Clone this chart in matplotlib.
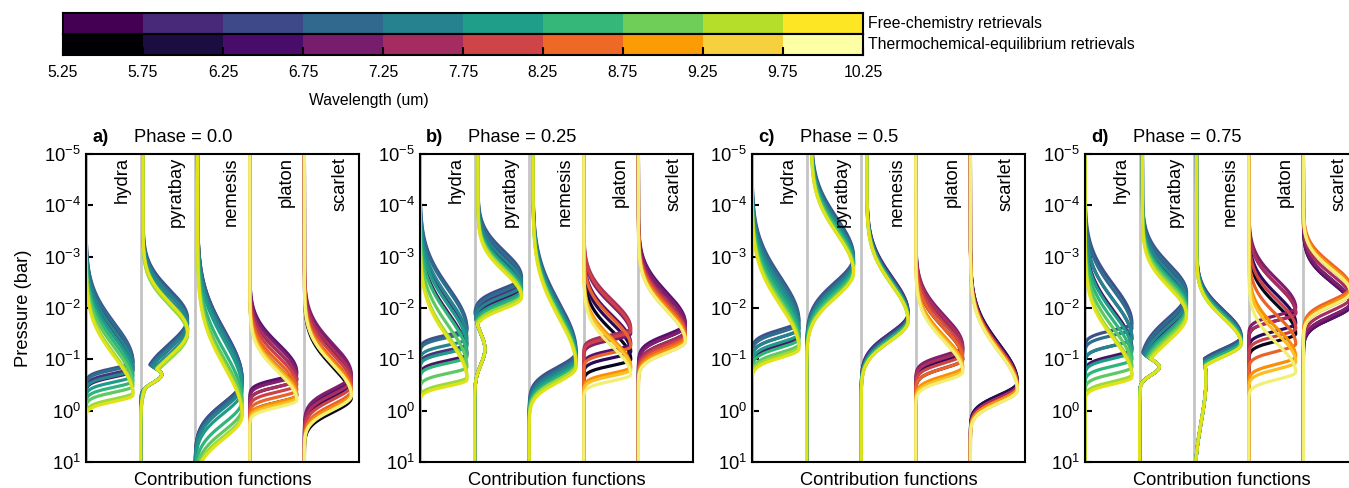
import numpy as np
import matplotlib
matplotlib.use('Agg')
from matplotlib import pyplot as plt
from matplotlib import cm
from matplotlib.colors import ListedColormap

plt.rcParams['font.family'] = ['Liberation Sans', 'DejaVu Sans']
plt.rcParams['font.size'] = 13.2
bar_fs = 11.3

# wavelength bins (um)
wavelengths = [5.5, 6.0, 6.5, 7.0, 7.5, 8.0, 8.5, 9.0, 9.5, 10.0]
wl_bounds = [5.25, 5.75, 6.25, 6.75, 7.25, 7.75, 8.25, 8.75, 9.25, 9.75, 10.25]
wl_ticklabels = ['5.25', '5.75', '6.25', '6.75', '7.25', '7.75', '8.25', '8.75',
                 '9.25', '9.75', '10.25']

phases = [0.0, 0.25, 0.5, 0.75]
panel_letters = ['a)', 'b)', 'c)', 'd)']
codes = ['hydra', 'pyratbay', 'nemesis', 'platon', 'scarlet']
free_codes = ['hydra', 'pyratbay', 'nemesis']

# log10 pressure (bar) of the contribution-function peak, per phase, per wavelength
peak_hydra = [
    [-0.78, -0.85, -0.95, -0.92, -0.80, -0.68, -0.58, -0.48, -0.35, -0.30],
    [-1.10, -1.30, -1.60, -1.55, -1.40, -1.25, -1.05, -0.85, -0.65, -0.60],
    [-1.45, -1.60, -1.75, -1.70, -1.60, -1.50, -1.40, -1.30, -1.25, -1.20],
    [-1.20, -1.40, -1.70, -1.60, -1.40, -1.15, -1.00, -0.85, -0.70, -0.65],
]
peak_pyratbay = [
    [-1.60, -1.70, -1.80, -1.75, -1.70, -1.60, -1.55, -1.50, -1.50, -1.55],
    [-2.40, -2.50, -2.60, -2.55, -2.45, -2.35, -2.30, -2.25, -2.25, -2.20],
    [-2.85, -2.90, -3.00, -2.95, -2.90, -2.85, -2.80, -2.75, -2.70, -2.70],
    [-2.10, -2.20, -2.30, -2.25, -2.15, -2.05, -2.00, -1.95, -1.90, -1.85],
]
peak_nemesis = [
    [-0.55, -0.60, -0.60, -0.55, -0.50, -0.40, -0.20, -0.05, 0.05, 0.10],
    [-1.00, -1.05, -1.15, -1.10, -1.05, -1.00, -0.95, -0.90, -0.90, -0.85],
    [-1.90, -1.90, -1.85, -1.85, -1.80, -1.80, -1.80, -1.75, -1.75, -1.75],
    [-1.40, -1.45, -1.45, -1.40, -1.40, -1.35, -1.35, -1.30, -1.30, -1.30],
]
peak_platon = [
    [-0.30, -0.60, -0.75, -0.70, -0.60, -0.50, -0.40, -0.30, -0.25, -0.20],
    [-1.00, -1.15, -1.30, -1.50, -1.60, -1.55, -1.25, -0.85, -0.80, -0.70],
    [-1.00, -1.15, -1.20, -1.25, -1.20, -1.10, -1.00, -0.85, -0.80, -0.75],
    [-1.50, -1.70, -1.90, -2.00, -1.90, -1.60, -1.30, -1.05, -0.95, -0.75],
]
peak_scarlet = [
    [-0.25, -0.55, -0.65, -0.70, -0.60, -0.50, -0.40, -0.35, -0.30, -0.30],
    [-1.55, -1.65, -1.70, -1.65, -1.55, -1.50, -1.45, -1.40, -1.35, -1.35],
    [-0.55, -0.55, -0.50, -0.50, -0.50, -0.45, -0.45, -0.45, -0.40, -0.40],
    [-2.05, -2.10, -2.05, -2.10, -2.20, -2.30, -2.40, -2.35, -2.30, -2.30],
]

# widths (dex) above / below the peak, per phase
width_up = {
    'hydra': [0.75, 0.80, 0.85, 0.75],
    'pyratbay': [0.55, 0.50, 0.75, 0.55],
    'nemesis': [0.95, 0.95, 0.70, 0.50],
    'platon': [0.55, 0.55, 0.60, 0.55],
    'scarlet': [0.60, 0.60, 0.75, 0.45],
}
width_low = {
    'hydra': [0.12, 0.12, 0.17, 0.13],
    'pyratbay': [0.50, 0.22, 0.50, 0.50],
    'nemesis': [0.45, 0.30, 0.40, 0.25],
    'platon': [0.13, 0.12, 0.17, 0.14],
    'scarlet': [0.28, 0.22, 0.25, 0.25],
}
# residual signal towards the top of the atmosphere
top_tail = {
    'hydra': [0.0, 0.0, 0.0, 0.0],
    'pyratbay': [0.05, 0.07, 0.10, 0.06],
    'nemesis': [0.05, 0.08, 0.12, 0.05],
    'platon': [0.0, 0.0, 0.0, 0.0],
    'scarlet': [0.0, 0.0, 0.0, 0.0],
}
# secondary lobe: (log10 P, height, width)
bump_pyratbay = [(-0.70, 0.45, 0.15), (-1.20, 0.22, 0.30), None, (-0.85, 0.42, 0.15)]
bump_nemesis = [None, None, None, (-0.60, 0.25, 0.80)]

peaks = dict(zip(codes, [peak_hydra, peak_pyratbay, peak_nemesis,
                         peak_platon, peak_scarlet]))
bumps = {'pyratbay': bump_pyratbay, 'nemesis': bump_nemesis}

logp = np.linspace(-5, 1, 600)
amp = 0.86


def contribution(pk, wu, wl, tail, bump):
    d = logp - pk
    up = tail + (1 - tail) * np.exp(-0.5 * (d / wu) ** 2)
    low = np.exp(-0.5 * (d / wl) ** 2)
    cf = np.where(d < 0, up, low)
    if bump is not None:
        p2, a2, w2 = bump
        cf = np.maximum(cf, a2 * np.exp(-0.5 * ((logp - p2) / w2) ** 2))
    return cf


W, H = 1349, 488
fig = plt.figure(figsize=(W / 100, H / 100), dpi=100)

wl_norm = (np.array(wavelengths) - wl_bounds[0]) / (wl_bounds[-1] - wl_bounds[0])
cmaps = {'free': cm.viridis, 'equil': cm.inferno}

# colour bars
bar_labels = ['Free-chemistry retrievals', 'Thermochemical-equilibrium retrievals']
for k, (cmap, lab) in enumerate(zip([cm.viridis, cm.inferno], bar_labels)):
    top = 13 + 21 * k
    cax = fig.add_axes([63 / W, 1 - (top + 21) / H, 800 / W, 21 / H])
    cols = cmap(np.linspace(0, 1, len(wavelengths)))
    cax.pcolormesh(wl_bounds, [0, 1], np.arange(len(wavelengths))[None, :],
                   cmap=ListedColormap(cols))
    cax.set_xlim(wl_bounds[0], wl_bounds[-1])
    cax.set_yticks([])
    for s in cax.spines.values():
        s.set_linewidth(1.5)
    if k == 0:
        cax.set_xticks([])
    else:
        cax.set_xticks(wl_bounds)
        cax.set_xticklabels(wl_ticklabels, fontsize=bar_fs)
        cax.tick_params(axis='x', direction='in', length=6, width=1.5, pad=7)
    fig.text(868 / W, 1 - (top + 10.5) / H, lab, va='center', ha='left',
             fontsize=bar_fs)
fig.text(369 / W, 1 - 100 / H, 'Wavelength (um)', ha='center', va='center',
         fontsize=bar_fs)

# contribution-function panels
lefts = [86, 420, 752, 1085]
for i, phase in enumerate(phases):
    ax = fig.add_axes([lefts[i] / W, 1 - 462 / H, 273 / W, 308 / H])
    for j, code in enumerate(codes):
        ax.axvline(j, color='#c4c4c4', lw=2, zorder=1)
        cmap = cmaps['free'] if code in free_codes else cmaps['equil']
        for n in range(len(wavelengths)):
            b = bumps.get(code, [None] * 4)[i]
            cf = contribution(peaks[code][i][n], width_up[code][i],
                              width_low[code][i], top_tail[code][i], b)
            ax.plot(j + amp * cf, 10 ** logp, color=cmap(wl_norm[n]),
                    lw=2.3, zorder=2 + n)
        ax.text(j + 0.66, 0.99, code, rotation=90, ha='center', va='top',
                transform=ax.get_xaxis_transform(), zorder=20)
    ax.set_yscale('log')
    ax.set_ylim(10, 1e-5)
    ax.set_xlim(0, 5)
    ax.set_yticks([1e-5, 1e-4, 1e-3, 1e-2, 1e-1, 1, 10])
    ax.minorticks_off()
    ax.set_xticks([])
    ax.tick_params(axis='y', direction='in', length=5, width=1.5)
    for s in ax.spines.values():
        s.set_linewidth(1.5)
        s.set_zorder(30)
    ax.set_xlabel('Contribution functions', labelpad=7)
    if i == 0:
        ax.set_ylabel('Pressure (bar)', labelpad=9)
    ax.text(0.022, 1.039, panel_letters[i], fontweight='bold',
            transform=ax.transAxes, va='baseline')
    ax.text(0.176, 1.039, 'Phase = %s' % phase, transform=ax.transAxes,
            va='baseline')

fig.savefig('out.png', dpi=100)
